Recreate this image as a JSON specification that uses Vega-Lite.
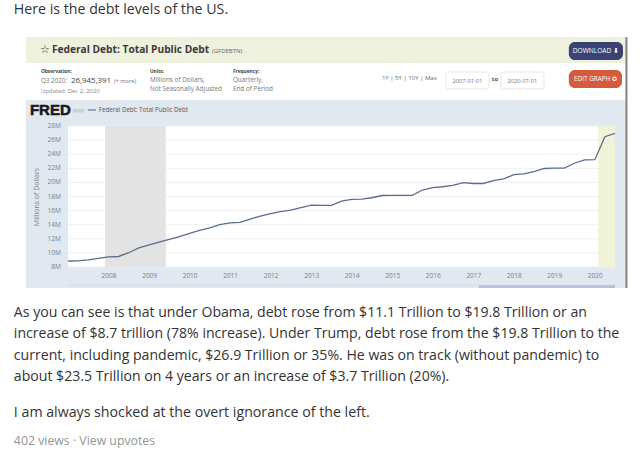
{
"$schema":"https://vega.github.io/schema/vega-lite/v6.json",
"width":547,"height":141,"autosize":"none",
"padding":{"left":68,"top":126,"right":27,"bottom":194},
"background":"#ffffff",
"config":{"view":{"stroke":null},"text":{"font":"Open Sans","baseline":"middle","align":"left"}},
"datasets":{
"levels":[{"level":8,"tick":"8M"},{"level":10,"tick":"10M"},{"level":12,"tick":"12M"},{"level":14,"tick":"14M"},{"level":16,"tick":"16M"},{"level":18,"tick":"18M"},{"level":20,"tick":"20M"},{"level":22,"tick":"22M"},{"level":24,"tick":"24M"},{"level":26,"tick":"26M"},{"level":28,"tick":"28M"}],
"debt":[
{"date":"2007-01-01","debt":8.850},{"date":"2007-04-01","debt":8.868},{"date":"2007-07-01","debt":9.008},{"date":"2007-10-01","debt":9.229},
{"date":"2008-01-01","debt":9.438},{"date":"2008-04-01","debt":9.492},{"date":"2008-07-01","debt":10.025},{"date":"2008-10-01","debt":10.700},
{"date":"2009-01-01","debt":11.127},{"date":"2009-04-01","debt":11.545},{"date":"2009-07-01","debt":11.910},{"date":"2009-10-01","debt":12.311},
{"date":"2010-01-01","debt":12.773},{"date":"2010-04-01","debt":13.202},{"date":"2010-07-01","debt":13.562},{"date":"2010-10-01","debt":14.025},
{"date":"2011-01-01","debt":14.270},{"date":"2011-04-01","debt":14.343},{"date":"2011-07-01","debt":14.790},{"date":"2011-10-01","debt":15.223},
{"date":"2012-01-01","debt":15.582},{"date":"2012-04-01","debt":15.856},{"date":"2012-07-01","debt":16.066},{"date":"2012-10-01","debt":16.433},
{"date":"2013-01-01","debt":16.771},{"date":"2013-04-01","debt":16.738},{"date":"2013-07-01","debt":16.738},{"date":"2013-10-01","debt":17.352},
{"date":"2014-01-01","debt":17.601},{"date":"2014-04-01","debt":17.633},{"date":"2014-07-01","debt":17.824},{"date":"2014-10-01","debt":18.141},
{"date":"2015-01-01","debt":18.152},{"date":"2015-04-01","debt":18.152},{"date":"2015-07-01","debt":18.152},{"date":"2015-10-01","debt":18.922},
{"date":"2016-01-01","debt":19.265},{"date":"2016-04-01","debt":19.382},{"date":"2016-07-01","debt":19.573},{"date":"2016-10-01","debt":19.977},
{"date":"2017-01-01","debt":19.846},{"date":"2017-04-01","debt":19.845},{"date":"2017-07-01","debt":20.245},{"date":"2017-10-01","debt":20.493},
{"date":"2018-01-01","debt":21.090},{"date":"2018-04-01","debt":21.195},{"date":"2018-07-01","debt":21.516},{"date":"2018-10-01","debt":21.974},
{"date":"2019-01-01","debt":22.028},{"date":"2019-04-01","debt":22.023},{"date":"2019-07-01","debt":22.719},{"date":"2019-10-01","debt":23.201},
{"date":"2020-01-01","debt":23.224},{"date":"2020-04-01","debt":26.477},{"date":"2020-07-01","debt":26.945}
]},
"layer":[
{"data":{"values":[{"part":"chart panel"}]},"mark":{"type":"rect","color":"#e1e8f0"},"encoding":{"x":{"datum":{"year":2007,"month":1,"date":-379},"type":"temporal"},"x2":{"datum":1601769600000},"y":{"datum":31.69,"type":"quantitative"},"y2":{"datum":5.02}}},
{"data":{"values":[{"part":"title bar"}]},"mark":{"type":"rect","color":"#eef1dd"},"encoding":{"x":{"datum":{"year":2007,"month":1,"date":-379},"type":"temporal"},"x2":{"datum":1601769600000},"y":{"datum":40.62,"type":"quantitative"},"y2":{"datum":36.94}}},
{"data":{"values":[{"part":"right edge"}]},"mark":{"type":"rule","color":"#808080","strokeWidth":2},"encoding":{"x":{"datum":{"year":2007,"month":1,"date":5034},"type":"temporal"},"y":{"datum":40.62,"type":"quantitative"},"y2":{"datum":5.02}}},
{"data":{"values":[{"part":"plot"}]},"mark":{"type":"rect","color":"#ffffff"},"encoding":{"x":{"datum":{"year":2007,"month":1,"date":1},"type":"temporal"},"x2":{"datum":1593561600000},"y":{"datum":28,"type":"quantitative"},"y2":{"datum":8}}},
{"data":{"name":"levels"},"mark":{"type":"rule","color":"#f0f0f0","strokeWidth":1},"encoding":{"y":{"field":"level","type":"quantitative"}}},
{"data":{"name":"levels"},"mark":{"type":"text","fontSize":6.5,"color":"#808080","align":"right"},"encoding":{"x":{"datum":{"year":2007,"month":1,"date":-63},"type":"temporal"},"y":{"field":"level","type":"quantitative"},"text":{"field":"tick"}}},
{"data":{"values":[{"start":"2007-12-01","end":"2009-06-01"}]},"mark":{"type":"rect","color":"#e3e3e3"},"encoding":{"x":{"field":"start","type":"temporal"},"x2":{"field":"end"},"y":{"datum":28,"type":"quantitative"},"y2":{"datum":8}}},
{"data":{"values":[{"start":"2020-02-01","end":"2020-07-01"}]},"mark":{"type":"rect","color":"#f1f3d9"},"encoding":{"x":{"field":"start","type":"temporal"},"x2":{"field":"end"},"y":{"datum":28,"type":"quantitative"},"y2":{"datum":8}}},
{"data":{"values":[{"part":"scrollbar track"}]},"mark":{"type":"rect","color":"#cdd5e2"},"encoding":{"x":{"datum":{"year":2007,"month":1,"date":1},"type":"temporal"},"x2":{"datum":1593561600000},"y":{"datum":5.5,"type":"quantitative"},"y2":{"datum":5.36}}},
{"data":{"values":[{"part":"scrollbar thumb"}]},"mark":{"type":"rect","color":"#b9c0d9"},"encoding":{"x":{"datum":{"year":2007,"month":1,"date":3704},"type":"temporal"},"x2":{"datum":1593561600000},"y":{"datum":5.4,"type":"quantitative"},"y2":{"datum":5.02}}},
{"data":{"name":"debt"},"mark":{"type":"line","color":"#5b6d90","strokeWidth":1.3,"interpolate":"linear"},
 "encoding":{
  "x":{"field":"date","type":"temporal","scale":{"domain":[{"year":2007,"month":1,"date":1},{"year":2020,"month":7,"date":1}],"nice":false},
   "axis":{"title":null,"format":"%Y","values":[{"year":2008,"month":1,"date":1},{"year":2009,"month":1,"date":1},{"year":2010,"month":1,"date":1},{"year":2011,"month":1,"date":1},{"year":2012,"month":1,"date":1},{"year":2013,"month":1,"date":1},{"year":2014,"month":1,"date":1},{"year":2015,"month":1,"date":1},{"year":2016,"month":1,"date":1},{"year":2017,"month":1,"date":1},{"year":2018,"month":1,"date":1},{"year":2019,"month":1,"date":1},{"year":2020,"month":1,"date":1}],"grid":false,"domain":false,"ticks":false,"labelFont":"Open Sans","labelFontSize":6.5,"labelColor":"#808080","labelPadding":5,"labelOverlap":false,"zindex":1}},
  "y":{"field":"debt","type":"quantitative","scale":{"domain":[8,28],"nice":false,"zero":false},
   "axis":{"title":"Millions of Dollars","titleFont":"Open Sans","titleFontSize":7,"titleFontWeight":"normal","titleColor":"#808080","titleX":-29,"labels":false,"grid":false,"domain":false,"ticks":false,"zindex":1}}}},
{"data":{"values":[{"part":"start date box"}]},"mark":{"type":"rect","color":"#ffffff","stroke":"#dddddd","strokeWidth":0.7,"cornerRadius":2},"encoding":{"x":{"datum":{"year":2007,"month":1,"date":3407},"type":"temporal"},"x2":{"datum":1495411200000},"y":{"datum":35.66,"type":"quantitative"},"y2":{"datum":33.25}}},
{"data":{"values":[{"part":"end date box"}]},"mark":{"type":"rect","color":"#ffffff","stroke":"#dddddd","strokeWidth":0.7,"cornerRadius":2},"encoding":{"x":{"datum":{"year":2007,"month":1,"date":3903},"type":"temporal"},"x2":{"datum":1538265600000},"y":{"datum":35.66,"type":"quantitative"},"y2":{"datum":33.25}}},
{"data":{"values":[{"part":"download button"}]},"mark":{"type":"rect","color":"#3a4374","cornerRadius":6},"encoding":{"x":{"datum":{"year":2007,"month":1,"date":4515},"type":"temporal"},"x2":{"datum":1599782400000},"y":{"datum":39.91,"type":"quantitative"},"y2":{"datum":37.36}}},
{"data":{"values":[{"part":"edit button"}]},"mark":{"type":"rect","color":"#d55b3c","cornerRadius":6},"encoding":{"x":{"datum":{"year":2007,"month":1,"date":4515},"type":"temporal"},"x2":{"datum":1599004800000},"y":{"datum":35.94,"type":"quantitative"},"y2":{"datum":33.39}}},
{"data":{"values":[{"part":"logo mark"}]},"mark":{"type":"rect","color":"#c9d3c8"},"encoding":{"x":{"datum":{"year":2007,"month":1,"date":45},"type":"temporal"},"x2":{"datum":1180051200000},"y":{"datum":30.4,"type":"quantitative"},"y2":{"datum":29.9}}},
{"data":{"values":[{"part":"legend key"}]},"mark":{"type":"rule","color":"#4a6491","strokeWidth":1},"encoding":{"x":{"datum":{"year":2007,"month":1,"date":180},"type":"temporal"},"x2":{"datum":1189382400000},"y":{"datum":30.27,"type":"quantitative"}}},
{"data":{"values":[{"label":"Here is the debt levels of the US."}]},"mark":{"type":"text","fontSize":14.2,"color":"#333333"},"encoding":{"x":{"datum":{"year":2007,"month":1,"date":-487},"type":"temporal"},"y":{"datum":44.45,"type":"quantitative"},"text":{"field":"label"}}},
{"data":{"values":[{"label":"☆"}]},"mark":{"type":"text","font":"DejaVu Sans","fontSize":11,"color":"#444444"},"encoding":{"x":{"datum":{"year":2007,"month":1,"date":-252},"type":"temporal"},"y":{"datum":38.78,"type":"quantitative"},"text":{"field":"label"}}},
{"data":{"values":[{"label":"Federal Debt: Total Public Debt"}]},"mark":{"type":"text","fontSize":10.2,"fontWeight":"bold","color":"#3a3a3a"},"encoding":{"x":{"datum":{"year":2007,"month":1,"date":-144},"type":"temporal"},"y":{"datum":38.78,"type":"quantitative"},"text":{"field":"label"}}},
{"data":{"values":[{"label":"(GFDEBTN)"}]},"mark":{"type":"text","fontSize":6,"color":"#666666"},"encoding":{"x":{"datum":{"year":2007,"month":1,"date":1298},"type":"temporal"},"y":{"datum":38.65,"type":"quantitative"},"text":{"field":"label"}}},
{"data":{"values":[{"label":"Observation:"}]},"mark":{"type":"text","fontSize":4.8,"fontWeight":"bold","color":"#444444"},"encoding":{"x":{"datum":{"year":2007,"month":1,"date":-243},"type":"temporal"},"y":{"datum":35.66,"type":"quantitative"},"text":{"field":"label"}}},
{"data":{"values":[{"label":"Q3 2020:"}]},"mark":{"type":"text","fontSize":6.3,"color":"#777777"},"encoding":{"x":{"datum":{"year":2007,"month":1,"date":-243},"type":"temporal"},"y":{"datum":34.38,"type":"quantitative"},"text":{"field":"label"}}},
{"data":{"values":[{"label":"26,945,391"}]},"mark":{"type":"text","fontSize":7.9,"color":"#444444"},"encoding":{"x":{"datum":{"year":2007,"month":1,"date":27},"type":"temporal"},"y":{"datum":34.38,"type":"quantitative"},"text":{"field":"label"}}},
{"data":{"values":[{"label":"(+ more)"}]},"mark":{"type":"text","fontSize":5.7,"color":"#777777"},"encoding":{"x":{"datum":{"year":2007,"month":1,"date":415},"type":"temporal"},"y":{"datum":34.38,"type":"quantitative"},"text":{"field":"label"}}},
{"data":{"values":[{"label":"Updated: Dec 2, 2020"}]},"mark":{"type":"text","fontSize":5.9,"color":"#888888"},"encoding":{"x":{"datum":{"year":2007,"month":1,"date":-243},"type":"temporal"},"y":{"datum":32.96,"type":"quantitative"},"text":{"field":"label"}}},
{"data":{"values":[{"label":"Units:"}]},"mark":{"type":"text","fontSize":4.8,"fontWeight":"bold","color":"#444444"},"encoding":{"x":{"datum":{"year":2007,"month":1,"date":739},"type":"temporal"},"y":{"datum":35.66,"type":"quantitative"},"text":{"field":"label"}}},
{"data":{"values":[{"label":"Millions of Dollars,"}]},"mark":{"type":"text","fontSize":6.4,"color":"#777777"},"encoding":{"x":{"datum":{"year":2007,"month":1,"date":739},"type":"temporal"},"y":{"datum":34.52,"type":"quantitative"},"text":{"field":"label"}}},
{"data":{"values":[{"label":"Not Seasonally Adjusted"}]},"mark":{"type":"text","fontSize":6.4,"color":"#777777"},"encoding":{"x":{"datum":{"year":2007,"month":1,"date":739},"type":"temporal"},"y":{"datum":33.25,"type":"quantitative"},"text":{"field":"label"}}},
{"data":{"values":[{"label":"Frequency:"}]},"mark":{"type":"text","fontSize":4.8,"fontWeight":"bold","color":"#444444"},"encoding":{"x":{"datum":{"year":2007,"month":1,"date":1487},"type":"temporal"},"y":{"datum":35.66,"type":"quantitative"},"text":{"field":"label"}}},
{"data":{"values":[{"label":"Quarterly,"}]},"mark":{"type":"text","fontSize":6.4,"color":"#777777"},"encoding":{"x":{"datum":{"year":2007,"month":1,"date":1487},"type":"temporal"},"y":{"datum":34.52,"type":"quantitative"},"text":{"field":"label"}}},
{"data":{"values":[{"label":"End of Period"}]},"mark":{"type":"text","fontSize":6.4,"color":"#777777"},"encoding":{"x":{"datum":{"year":2007,"month":1,"date":1487},"type":"temporal"},"y":{"datum":33.25,"type":"quantitative"},"text":{"field":"label"}}},
{"data":{"values":[{"label":"1Y | 5Y | 10Y | Max"}]},"mark":{"type":"text","fontSize":6,"color":"#666666"},"encoding":{"x":{"datum":{"year":2007,"month":1,"date":2830},"type":"temporal"},"y":{"datum":34.81,"type":"quantitative"},"text":{"field":"label"}}},
{"data":{"values":[{"label":"2007-01-01"}]},"mark":{"type":"text","fontSize":5.7,"color":"#777777","align":"center"},"encoding":{"x":{"datum":{"year":2007,"month":1,"date":3601},"type":"temporal"},"y":{"datum":34.45,"type":"quantitative"},"text":{"field":"label"}}},
{"data":{"values":[{"label":"to"}]},"mark":{"type":"text","fontSize":6,"fontWeight":"bold","color":"#555555"},"encoding":{"x":{"datum":{"year":2007,"month":1,"date":3821},"type":"temporal"},"y":{"datum":34.67,"type":"quantitative"},"text":{"field":"label"}}},
{"data":{"values":[{"label":"2020-07-01"}]},"mark":{"type":"text","fontSize":5.7,"color":"#777777","align":"center"},"encoding":{"x":{"datum":{"year":2007,"month":1,"date":4096},"type":"temporal"},"y":{"datum":34.45,"type":"quantitative"},"text":{"field":"label"}}},
{"data":{"values":[{"label":"DOWNLOAD ⬇"}]},"mark":{"type":"text","fontSize":6.6,"color":"#ffffff","align":"center"},"encoding":{"x":{"datum":{"year":2007,"month":1,"date":4759},"type":"temporal"},"y":{"datum":38.65,"type":"quantitative"},"text":{"field":"label"}}},
{"data":{"values":[{"label":"EDIT GRAPH ✪"}]},"mark":{"type":"text","fontSize":6.4,"color":"#ffffff","align":"center"},"encoding":{"x":{"datum":{"year":2007,"month":1,"date":4755},"type":"temporal"},"y":{"datum":34.67,"type":"quantitative"},"text":{"field":"label"}}},
{"data":{"values":[{"label":"FRED"}]},"mark":{"type":"text","font":"Liberation Sans","fontSize":15,"fontWeight":"bold","color":"#1a1a1a","stroke":"#1a1a1a","strokeWidth":0.5},"encoding":{"x":{"datum":{"year":2007,"month":1,"date":-342},"type":"temporal"},"y":{"datum":30.27,"type":"quantitative"},"text":{"field":"label"}}},
{"data":{"values":[{"label":"Federal Debt: Total Public Debt"}]},"mark":{"type":"text","fontSize":6.2,"color":"#555555"},"encoding":{"x":{"datum":{"year":2007,"month":1,"date":279},"type":"temporal"},"y":{"datum":30.27,"type":"quantitative"},"text":{"field":"label"}}},
{"data":{"values":[{"label":"As you can see is that under Obama, debt rose from $11.1 Trillion to $19.8 Trillion or an\nincrease of $8.7 trillion (78% increase). Under Trump, debt rose from the $19.8 Trillion to the\ncurrent, including pandemic, $26.9 Trillion or 35%. He was on track (without pandemic) to\nabout $23.5 Trillion on 4 years or an increase of $3.7 Trillion (20%)."}]},"mark":{"type":"text","fontSize":14.1,"color":"#333333","lineBreak":"\n","lineHeight":21.3,"baseline":"top"},"encoding":{"x":{"datum":{"year":2007,"month":1,"date":-487},"type":"temporal"},"y":{"datum":2.47,"type":"quantitative"},"text":{"field":"label"}}},
{"data":{"values":[{"label":"I am always shocked at the overt ignorance of the left."}]},"mark":{"type":"text","fontSize":14.2,"color":"#333333"},"encoding":{"x":{"datum":{"year":2007,"month":1,"date":-487},"type":"temporal"},"y":{"datum":-12.71,"type":"quantitative"},"text":{"field":"label"}}},
{"data":{"values":[{"label":"402 views · View upvotes"}]},"mark":{"type":"text","fontSize":12.3,"color":"#939598"},"encoding":{"x":{"datum":{"year":2007,"month":1,"date":-487},"type":"temporal"},"y":{"datum":-16.68,"type":"quantitative"},"text":{"field":"label"}}}
]
}
